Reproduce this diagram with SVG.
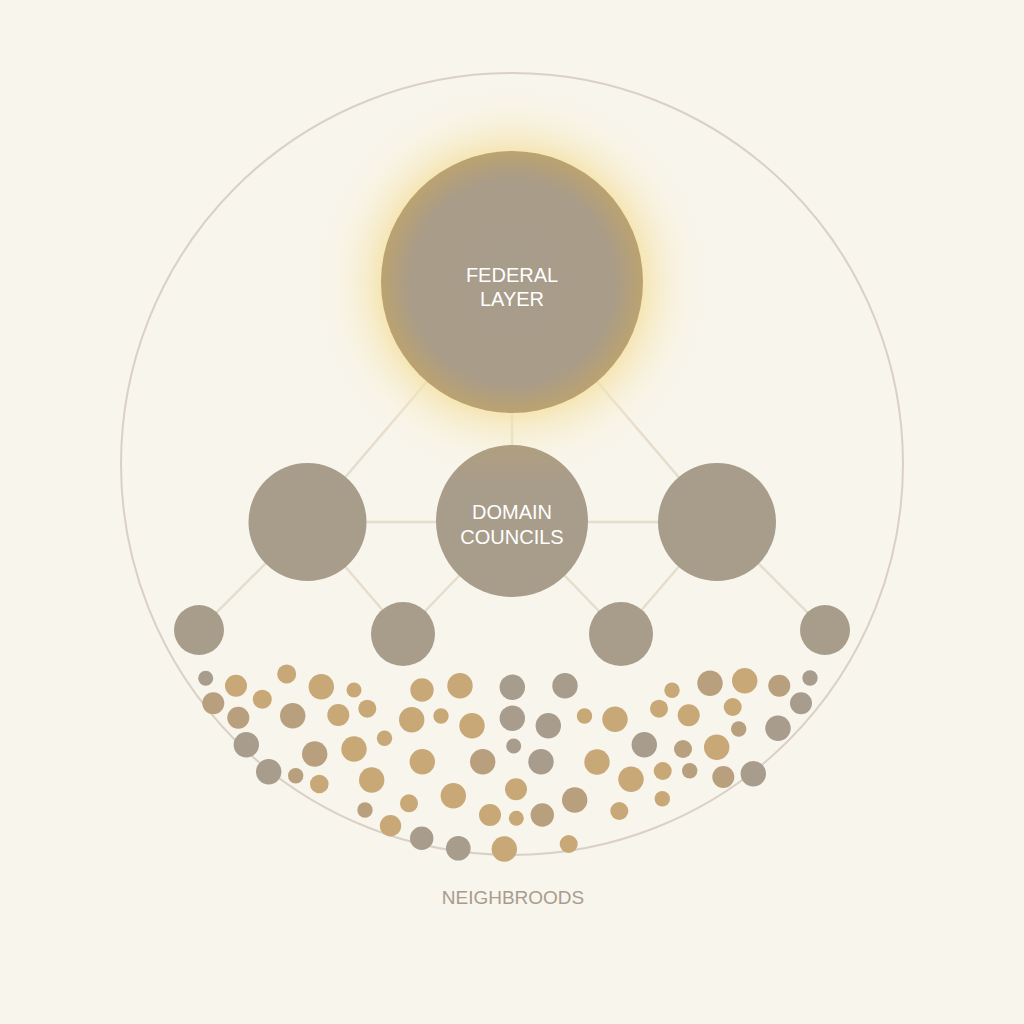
<svg xmlns="http://www.w3.org/2000/svg" width="1024" height="1024" viewBox="0 0 1024 1024">
  <defs>
    <radialGradient id="glow" cx="512" cy="282" r="200" gradientUnits="userSpaceOnUse">
      <stop offset="0.62" stop-color="#f4df9c" stop-opacity="0.85"/>
      <stop offset="0.74" stop-color="#f6e6b4" stop-opacity="0.5"/>
      <stop offset="0.88" stop-color="#f8efd2" stop-opacity="0.2"/>
      <stop offset="1" stop-color="#f8f4ea" stop-opacity="0"/>
    </radialGradient>
    <radialGradient id="fedFill" cx="512" cy="282" r="131" gradientUnits="userSpaceOnUse">
      <stop offset="0" stop-color="#a89c8b"/>
      <stop offset="0.78" stop-color="#a99c88"/>
      <stop offset="1" stop-color="#bba270"/>
    </radialGradient>
    <linearGradient id="domFill" x1="0" y1="0" x2="0" y2="1">
      <stop offset="0" stop-color="#b09f7f"/>
      <stop offset="0.25" stop-color="#a89c8a"/>
      <stop offset="1" stop-color="#a89c8a"/>
    </linearGradient>
  </defs>
  <style>
    .bg { fill: #f8f5ec; }
    .ring { fill: none; stroke: #dad0c6; stroke-width: 2; }
    .link { stroke: #e6ddcc; stroke-width: 2.5; fill: none; }
    .node { fill: #a89c8a; }
    .label { font-family: "Liberation Sans", Arial, sans-serif; font-size: 20px; fill: #ffffff; text-anchor: middle; }
    .caption { font-family: "Liberation Sans", Arial, sans-serif; font-size: 19px; fill: #a89c8c; text-anchor: middle; }
    .g { fill: #c8a877; }
    .m { fill: #b8a07f; }
    .s { fill: #a89c8c; }
  </style>

  <rect class="bg" x="0" y="0" width="1024" height="1024"/>
  <circle class="ring" cx="512" cy="464" r="391"/>

  <g id="connectors">
    <line class="link" x1="512" y1="282" x2="307" y2="522"/>
    <line class="link" x1="512" y1="282" x2="717" y2="522"/>
    <line class="link" x1="512" y1="282" x2="512" y2="521"/>
    <line class="link" x1="307" y1="522" x2="717" y2="522"/>
    <line class="link" x1="307" y1="522" x2="199" y2="630"/>
    <line class="link" x1="307" y1="522" x2="403" y2="634"/>
    <line class="link" x1="512" y1="521" x2="403" y2="634"/>
    <line class="link" x1="512" y1="521" x2="621" y2="634"/>
    <line class="link" x1="717" y1="522" x2="621" y2="634"/>
    <line class="link" x1="717" y1="522" x2="825" y2="630"/>
  </g>

  <g id="federal-layer">
    <circle cx="512" cy="282" r="200" fill="url(#glow)"/>
    <circle cx="512" cy="282" r="131" fill="url(#fedFill)"/>
    <text class="label" x="512" y="282">FEDERAL</text>
    <text class="label" x="512" y="306">LAYER</text>
  </g>

  <g id="domain-councils">
    <circle cx="512" cy="521" r="76" fill="url(#domFill)"/>
    <text class="label" x="512" y="519">DOMAIN</text>
    <text class="label" x="512" y="544">COUNCILS</text>
  </g>

  <g id="council-left"><circle class="node" cx="307.5" cy="522" r="59"/></g>
  <g id="council-right"><circle class="node" cx="717" cy="522" r="59"/></g>

  <g id="sub-1"><circle class="node" cx="199" cy="630" r="25"/></g>
  <g id="sub-2"><circle class="node" cx="403" cy="634" r="32"/></g>
  <g id="sub-3"><circle class="node" cx="621" cy="634" r="32"/></g>
  <g id="sub-4"><circle class="node" cx="825" cy="630" r="25"/></g>

  <g id="neighborhoods">
    <circle class="s" cx="205.7" cy="678.3" r="7.5"/>
    <circle class="g" cx="236" cy="685.7" r="11"/>
    <circle class="g" cx="286.7" cy="674" r="9.5"/>
    <circle class="g" cx="321.3" cy="686.7" r="12.7"/>
    <circle class="g" cx="354" cy="690" r="7.5"/>
    <circle class="m" cx="213.3" cy="703.3" r="11"/>
    <circle class="m" cx="238.3" cy="717.7" r="11"/>
    <circle class="g" cx="262.3" cy="699.3" r="9.5"/>
    <circle class="m" cx="292.7" cy="715.7" r="12.7"/>
    <circle class="g" cx="338.3" cy="715" r="11"/>
    <circle class="g" cx="367.3" cy="708.7" r="9"/>
    <circle class="s" cx="246.3" cy="744.7" r="12.7"/>
    <circle class="m" cx="314.7" cy="754" r="12.7"/>
    <circle class="g" cx="354" cy="749" r="12.7"/>
    <circle class="g" cx="384.5" cy="738.3" r="7.7"/>
    <circle class="s" cx="268.7" cy="771.7" r="12.7"/>
    <circle class="m" cx="295.7" cy="775.7" r="7.7"/>
    <circle class="g" cx="319.3" cy="784" r="9.3"/>
    <circle class="g" cx="371.7" cy="780" r="12.7"/>
    <circle class="m" cx="365" cy="810" r="7.7"/>
    <circle class="g" cx="390.5" cy="825.7" r="10.7"/>

    <circle class="g" cx="422" cy="690" r="11.7"/>
    <circle class="g" cx="460" cy="685.7" r="12.7"/>
    <circle class="s" cx="512.3" cy="687.3" r="12.7"/>
    <circle class="s" cx="565" cy="685.7" r="12.7"/>
    <circle class="g" cx="411.7" cy="719.7" r="12.7"/>
    <circle class="g" cx="441" cy="716" r="7.7"/>
    <circle class="g" cx="472" cy="725.7" r="12.7"/>
    <circle class="s" cx="512.3" cy="718.3" r="12.7"/>
    <circle class="s" cx="548.3" cy="725.7" r="12.7"/>
    <circle class="g" cx="584.5" cy="716" r="7.7"/>
    <circle class="g" cx="422.3" cy="761.7" r="12.7"/>
    <circle class="m" cx="482.7" cy="761.7" r="12.7"/>
    <circle class="s" cx="513.7" cy="746" r="7.5"/>
    <circle class="s" cx="541" cy="761.7" r="12.7"/>
    <circle class="g" cx="597" cy="762" r="12.7"/>
    <circle class="g" cx="453.3" cy="795.7" r="12.7"/>
    <circle class="g" cx="409" cy="803.3" r="9"/>
    <circle class="g" cx="516" cy="789.3" r="11"/>
    <circle class="g" cx="490" cy="815" r="11"/>
    <circle class="g" cx="516.3" cy="818.3" r="7.5"/>
    <circle class="m" cx="542.3" cy="815" r="11.7"/>
    <circle class="m" cx="574.7" cy="800" r="12.7"/>
    <circle class="s" cx="421.7" cy="838.3" r="11.7"/>
    <circle class="s" cx="458.3" cy="848.3" r="12.3"/>
    <circle class="g" cx="504.3" cy="849" r="12.7"/>
    <circle class="g" cx="568.7" cy="844" r="9"/>

    <circle class="g" cx="672" cy="690.3" r="7.7"/>
    <circle class="m" cx="710" cy="683.3" r="12.7"/>
    <circle class="g" cx="744.7" cy="680.7" r="12.7"/>
    <circle class="m" cx="779.3" cy="685.7" r="11"/>
    <circle class="s" cx="810" cy="678" r="7.7"/>
    <circle class="s" cx="801" cy="703.3" r="11"/>
    <circle class="s" cx="778" cy="728.3" r="12.7"/>
    <circle class="g" cx="615" cy="719.3" r="12.7"/>
    <circle class="g" cx="659" cy="708.7" r="9"/>
    <circle class="g" cx="688.7" cy="715.3" r="11"/>
    <circle class="g" cx="732.7" cy="707" r="9"/>
    <circle class="m" cx="738.7" cy="729" r="7.7"/>
    <circle class="s" cx="644.3" cy="744.7" r="12.7"/>
    <circle class="m" cx="683" cy="749" r="9"/>
    <circle class="g" cx="716.7" cy="747.3" r="12.7"/>
    <circle class="g" cx="631" cy="779.3" r="12.7"/>
    <circle class="g" cx="662.7" cy="771" r="9"/>
    <circle class="m" cx="689.7" cy="770.7" r="7.7"/>
    <circle class="m" cx="723.3" cy="777" r="11"/>
    <circle class="s" cx="753.3" cy="773.7" r="12.7"/>
    <circle class="g" cx="662.3" cy="798.7" r="7.7"/>
    <circle class="g" cx="619.3" cy="811" r="9"/>
  </g>

  <text class="caption" x="513" y="904">NEIGHBROODS</text>
</svg>
